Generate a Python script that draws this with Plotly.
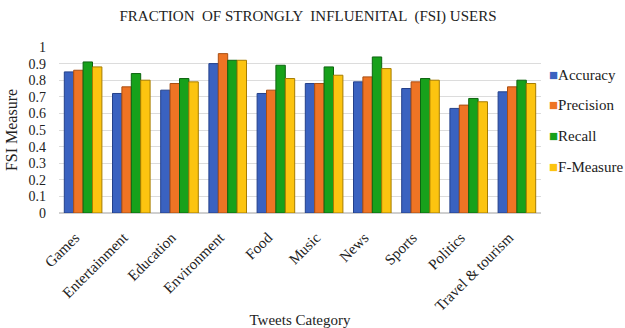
import plotly.graph_objects as go

categories = ["Games", "Entertainment", "Education", "Environment", "Food",
              "Music", "News", "Sports", "Politics", "Travel & tourism"]
accuracy = [0.85, 0.72, 0.74, 0.90, 0.72, 0.78, 0.79, 0.75, 0.63, 0.73]
precision = [0.86, 0.76, 0.78, 0.96, 0.74, 0.78, 0.82, 0.79, 0.65, 0.76]
recall = [0.91, 0.84, 0.81, 0.92, 0.89, 0.88, 0.94, 0.81, 0.69, 0.80]
f_measure = [0.88, 0.80, 0.79, 0.92, 0.81, 0.83, 0.87, 0.80, 0.67, 0.78]

series = [
    ("Accuracy", accuracy, "#3a62c0", "#24408a"),
    ("Precision", precision, "#ee7424", "#a94e12"),
    ("Recall", recall, "#17a11b", "#0d6410"),
    ("F-Measure", f_measure, "#fcc410", "#a67c00"),
]

serif = "Times New Roman, Liberation Serif, Times, serif"
ink = "#222222"

fig = go.Figure()
for name, vals, color, edge in series:
    fig.add_trace(go.Bar(
        name=name, x=categories, y=vals,
        marker=dict(color=color, line=dict(color=edge, width=1)),
        showlegend=False,
    ))

# legend drawn as a column of coloured squares with labels
legend_y = [75, 105, 136, 167]
for (name, _, color, _), ly in zip(series, legend_y):
    fig.add_annotation(
        xref="paper", yref="paper",
        x=(547 - 59) / (625 - 59 - 84), xanchor="left",
        y=(328 - 115 - ly) / (328 - 47 - 115), yanchor="middle",
        text=f"<span style='color:{color}'>■</span>{name}",
        showarrow=False, font=dict(family=serif, size=15, color=ink),
    )

fig.update_layout(
    width=625, height=328,
    margin=dict(l=59, r=84, t=47, b=115),
    paper_bgcolor="white", plot_bgcolor="white",
    barmode="group", bargap=0.22, bargroupgap=0,
    font=dict(family=serif, size=13, color=ink),
    title=dict(text="FRACTION  OF STRONGLY  INFLUENITAL  (FSI) USERS",
               x=308 / 625, xanchor="center", y=1 - 16 / 328, yanchor="middle",
               font=dict(family=serif, size=15, color=ink)),
    xaxis=dict(tickangle=-45, tickfont=dict(family=serif, size=15, color=ink),
               showline=False, ticks="", automargin=False,
               ticklabelstandoff=12, ticklabelshift=-8,
               title=dict(text="Tweets Category", standoff=2,
                          font=dict(family=serif, size=15, color=ink))),
    yaxis=dict(range=[0, 1.0], dtick=0.1, tickformat="~g",
               gridcolor="#dcdcdc", gridwidth=1, zeroline=True,
               zerolinecolor="#cfcfcf", showline=False, ticks="",
               ticklabelstandoff=12, automargin=False,
               tickfont=dict(family=serif, size=14, color=ink),
               title=dict(text="FSI Measure", standoff=6,
                          font=dict(family=serif, size=16, color=ink))),
)

fig.write_html("out.html")
